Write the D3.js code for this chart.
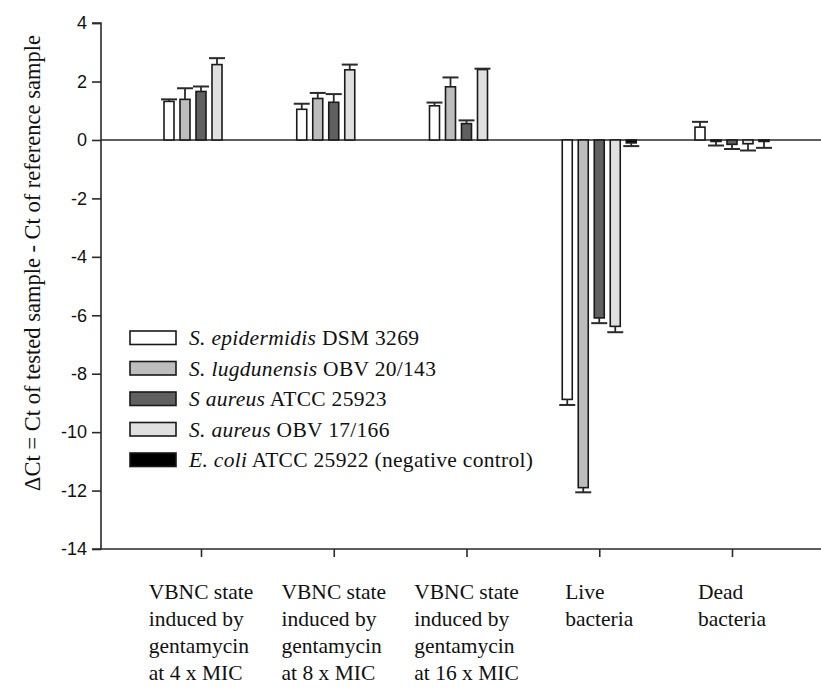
<!DOCTYPE html>
<html>
<head>
<meta charset="utf-8">
<script src="https://cdn.jsdelivr.net/npm/d3@7"></script>
<style>
  html, body { margin: 0; padding: 0; background: #fff; }
  svg { display: block; }
</style>
</head>
<body>
<svg id="chart" width="821" height="688"></svg>
<script>
// ---- data ----
const categories = ["VBNC4", "VBNC8", "VBNC16", "Live", "Dead"];
const categoryLabels = [
  ["VBNC state", "induced by", "gentamycin", "at 4 x MIC"],
  ["VBNC state", "induced by", "gentamycin", "at 8 x MIC"],
  ["VBNC state", "induced by", "gentamycin", "at 16 x MIC"],
  ["Live", "bacteria"],
  ["Dead", "bacteria"]
];
const seriesNames = ["sepi", "slug", "saur1", "saur2", "ecoli"];
const seriesItalic = ["S. epidermidis", "S. lugdunensis", "S aureus", "S. aureus", "E. coli"];
const seriesRest = [" DSM 3269", " OBV 20/143", " ATCC 25923", " OBV 17/166", " ATCC 25922 (negative control)"];
const seriesColors = ["#ffffff", "#bdbdbd", "#606060", "#e0e0e0", "#000000"];
// values per series, in category order
const sepiValues  = [1.32, 1.05, 1.17, -8.88, 0.44];
const slugValues  = [1.39, 1.42, 1.82, -11.90, -0.05];
const saur1Values = [1.66, 1.29, 0.56, -6.09, -0.15];
const saur2Values = [2.58, 2.40, 2.41, -6.38, -0.13];
const ecoliValues = [null, null, null, -0.10, -0.05];
// error (SD) per series
const sepiErr  = [0.07, 0.19, 0.11, 0.19, 0.18];
const slugErr  = [0.38, 0.19, 0.32, 0.16, 0.14];
const saur1Err = [0.17, 0.28, 0.11, 0.18, 0.16];
const saur2Err = [0.22, 0.18, 0.03, 0.20, 0.23];
const ecoliErr = [null, null, null, 0.11, 0.22];
const yTicks = [4, 2, 0, -2, -4, -6, -8, -10, -12, -14];
const yTitle = "\u0394Ct = Ct of tested sample - Ct of reference sample";

const allValues = [sepiValues, slugValues, saur1Values, saur2Values, ecoliValues];
const allErr = [sepiErr, slugErr, saur1Err, saur2Err, ecoliErr];

// ---- layout ----
const svg = d3.select("#chart");
const axisX = 101, rightX = 821;
const y = d3.scaleLinear().domain([-14, 4]).range([549, 23.1]);
const x0 = d3.scalePoint().domain(categories).range([201, 732]);
const x1 = d3.scaleBand().domain(seriesNames).range([-37, 37]).paddingInner(0.375);

const serif = "'Liberation Serif', 'Times New Roman', serif";
const sans = "'Liberation Sans', Arial, sans-serif";
const ink = "#2a2a2a";

// zero line
svg.append("line")
  .attr("x1", axisX).attr("x2", rightX)
  .attr("y1", y(0)).attr("y2", y(0))
  .attr("stroke", ink).attr("stroke-width", 1.6);

// bars
const bars = [];
seriesNames.forEach((s, si) => {
  categories.forEach((c, ci) => {
    const v = allValues[si][ci];
    if (v === null) return;
    bars.push({s, si, c, v, e: allErr[si][ci]});
  });
});

const g = svg.append("g");
g.selectAll("rect.bar").data(bars).join("rect")
  .attr("class", "bar")
  .attr("x", d => x0(d.c) + x1(d.s))
  .attr("width", x1.bandwidth())
  .attr("y", d => Math.min(y(d.v), y(0)))
  .attr("height", d => Math.abs(y(d.v) - y(0)))
  .attr("fill", d => seriesColors[d.si])
  .attr("stroke", "#1a1a1a").attr("stroke-width", 1.6);

// error bars (one-sided, away from zero)
const capW = 16;
const eb = g.selectAll("g.err").data(bars.filter(d => d.e !== null)).join("g").attr("class", "err");
const cx = d => x0(d.c) + x1(d.s) + x1.bandwidth() / 2;
const ey = d => y(d.v >= 0 ? d.v + d.e : d.v - d.e);
eb.append("line")
  .attr("x1", cx).attr("x2", cx)
  .attr("y1", d => y(d.v)).attr("y2", ey)
  .attr("stroke", ink).attr("stroke-width", 1.8);
eb.append("line")
  .attr("x1", d => cx(d) - capW / 2).attr("x2", d => cx(d) + capW / 2)
  .attr("y1", ey).attr("y2", ey)
  .attr("stroke", ink).attr("stroke-width", 2);

// y axis
const yAxis = d3.axisLeft(y).tickValues(yTicks).tickSize(9).tickPadding(5).tickFormat(d => String(d));
const ya = svg.append("g").attr("transform", `translate(${axisX},0)`).call(yAxis);
ya.select(".domain").attr("stroke", ink).attr("stroke-width", 1.6).attr("d", `M-9,${y(4)}H0V${y(-14)}H-9`);
ya.selectAll(".tick line").attr("stroke", ink).attr("stroke-width", 1.6);
ya.selectAll(".tick text").attr("font-family", sans).attr("font-size", 18).attr("fill", "#111");

// x axis (bottom line at -14)
const xAxis = d3.axisBottom(x0).tickSize(8).tickFormat("");
const xa = svg.append("g").attr("transform", `translate(0,${y(-14)})`).call(xAxis);
xa.select(".domain").attr("stroke", ink).attr("stroke-width", 1.6).attr("d", `M${axisX},0H${rightX}`);
xa.selectAll(".tick line").attr("stroke", ink).attr("stroke-width", 1.6);

// category labels: left-aligned block centered on tick
categories.forEach((c, ci) => {
  const t = svg.append("text")
    .attr("font-family", serif).attr("font-size", 21.5).attr("fill", "#111");
  categoryLabels[ci].forEach((line, li) => {
    t.append("tspan").attr("x", 0).attr("y", 599 + li * 27).text(line);
  });
  let w = 0;
  t.selectAll("tspan").each(function() { w = Math.max(w, this.getComputedTextLength()); });
  t.attr("transform", `translate(${x0(c) - w / 2},0)`);
});

// y title
svg.append("text")
  .attr("transform", `translate(40,${263}) rotate(-90)`)
  .attr("text-anchor", "middle")
  .attr("font-family", serif).attr("font-size", 22.5).attr("fill", "#111")
  .text(yTitle);

// legend
const lg = svg.append("g");
seriesNames.forEach((s, si) => {
  const yy = 331 + si * 30.5;
  lg.append("rect")
    .attr("x", 130).attr("y", yy).attr("width", 46).attr("height", 13.5)
    .attr("fill", seriesColors[si]).attr("stroke", "#1a1a1a").attr("stroke-width", 1.6);
  const t = lg.append("text")
    .attr("x", 189).attr("y", yy + 14)
    .attr("font-family", serif).attr("font-size", 21.5).attr("letter-spacing", 0.3).attr("fill", "#111");
  t.append("tspan").attr("font-style", "italic").text(seriesItalic[si]);
  t.append("tspan").text(seriesRest[si]);
});
</script>
</body>
</html>
